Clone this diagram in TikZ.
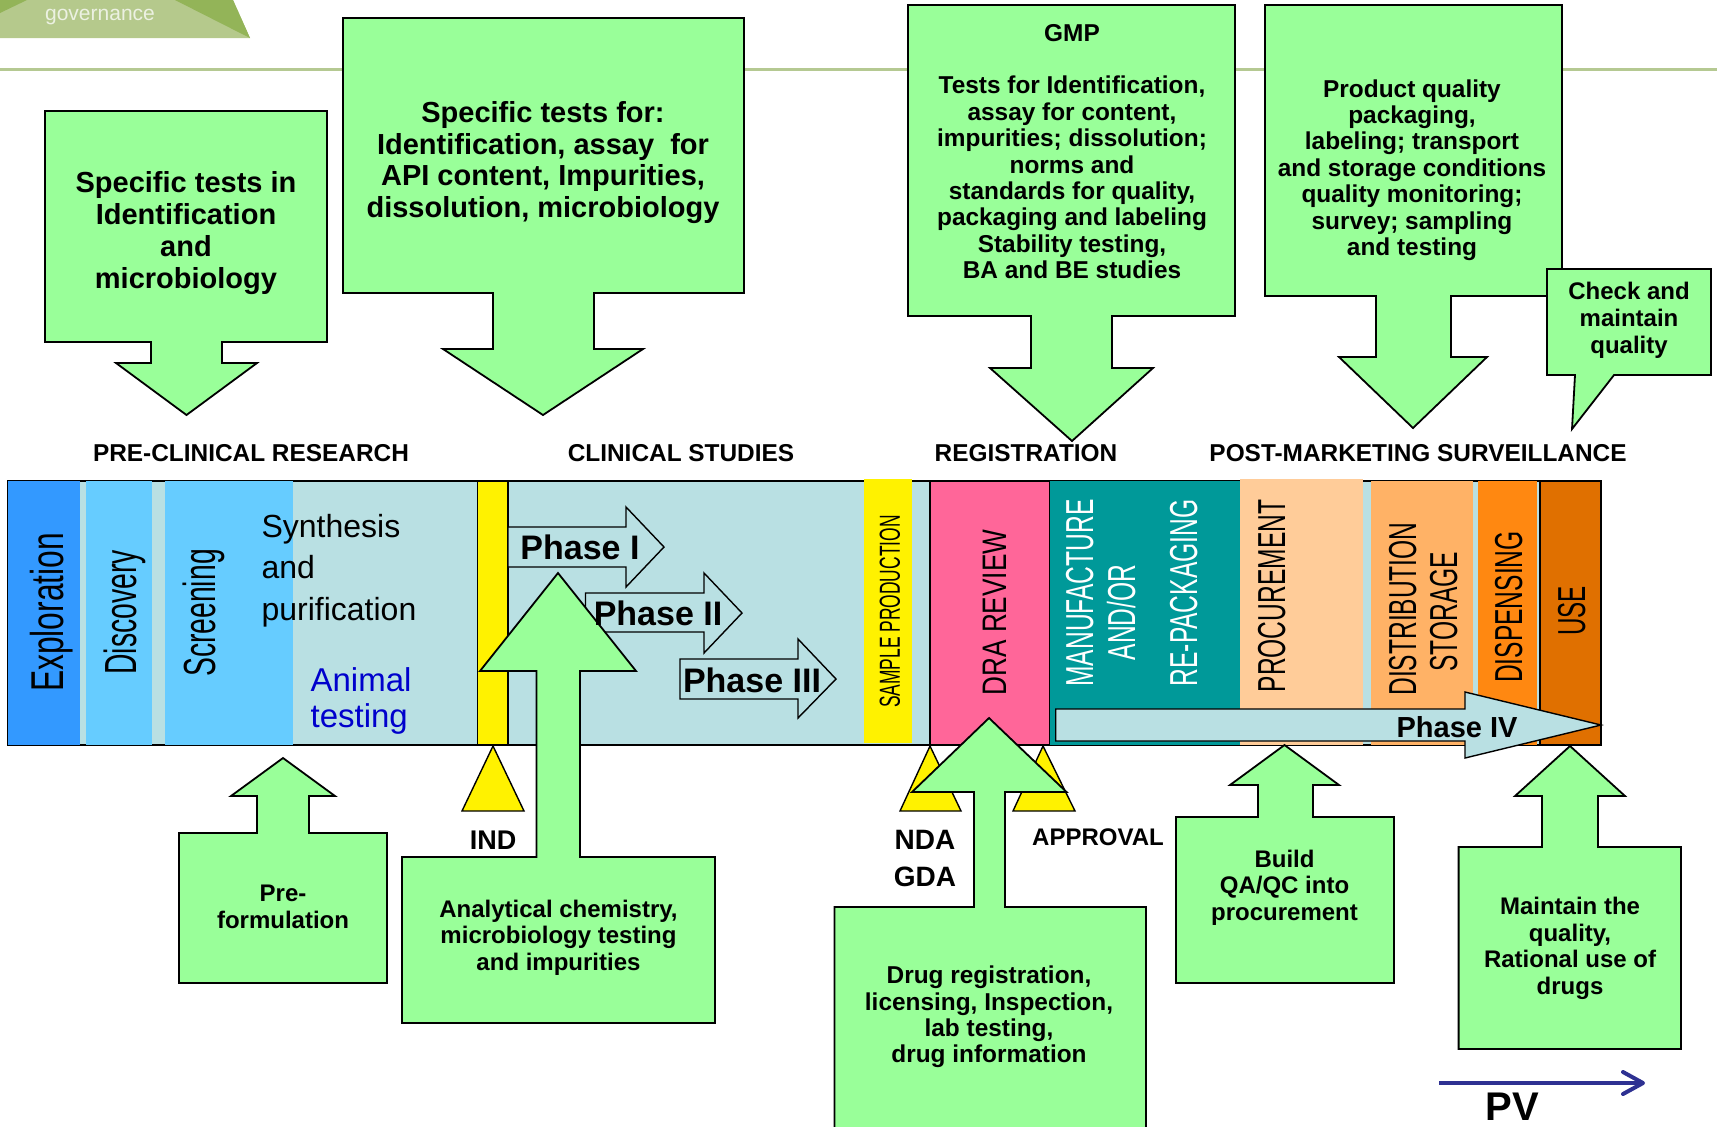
\documentclass[tikz,border=0pt]{standalone}
\usepackage{fontspec}
\setmainfont{Liberation Sans}
\usepackage{graphicx}
\usetikzlibrary{arrows.meta,positioning}

\definecolor{boxgreen}{RGB}{153,255,153}
\definecolor{barbg}{RGB}{185,224,227}
\definecolor{expblue}{RGB}{51,153,255}
\definecolor{skyblue}{RGB}{102,204,255}
\definecolor{drapink}{RGB}{255,102,153}
\definecolor{mfteal}{RGB}{0,153,153}
\definecolor{procpeach}{RGB}{255,204,153}
\definecolor{distorange}{RGB}{255,178,102}
\definecolor{disporange}{RGB}{255,136,17}
\definecolor{useorange}{RGB}{224,112,0}
\definecolor{animalblue}{RGB}{0,0,204}
\definecolor{pvblue}{RGB}{46,49,146}
\definecolor{govlight}{RGB}{181,201,140}
\definecolor{govdark}{RGB}{147,180,88}
\definecolor{govtext}{RGB}{236,241,226}
\definecolor{ruleline}{RGB}{181,201,146}

\newcommand{\setfs}[2]{\fontsize{#1}{#2}\selectfont}
\newcommand{\squeezed}[2]{\scalebox{#1}[1]{#2}}

\begin{document}
\begin{tikzpicture}[x=0.5pt,y=-0.5pt,
		callout/.style={fill=boxgreen,draw=black,line width=0.9pt},
		marker/.style={fill=yellow,draw=black,line width=0.7pt},
		phase/.style={fill=barbg,draw=black,line width=0.7pt},
		vlabel/.style={rotate=90,anchor=base,inner sep=0pt},
		stage/.style={font=\bfseries\setfs{12.2pt}{14pt}},
		boxtext/.style={align=center,font=\bfseries\setfs{12.2pt}{13.2pt}},
		bigtext/.style={align=center,font=\bfseries\setfs{14.5pt}{15.9pt}},
		phasetext/.style={font=\bfseries\setfs{17pt}{20pt}},
		semithick]

	\useasboundingbox (0,0) rectangle (1717,1126);

	% header
	\draw[ruleline,line width=1.5pt] (0,69) -- (1717,69);
	\fill[govlight] (0,0) -- (233,0) -- (250,38) -- (0,38) -- cycle;
	\fill[govdark] (175,0) -- (233,0) -- (250,38) -- cycle;
	\fill[govdark] (0,0) -- (27,0) -- (0,13) -- cycle;
	\node[text=govtext,font=\setfs{10.5pt}{12pt}] (Gov) at (100,17) {governance};

	% boxes above the time line
	\draw[callout] (45,111) -- (327,111) -- (327,342) -- (222,342) -- (222,363) -- (257,363)
		-- (186.5,415) -- (116,363) -- (151,363) -- (151,342) -- (45,342) -- cycle;
	\draw[callout] (343,18) -- (744,18) -- (744,293) -- (594,293) -- (594,349) -- (643,349)
		-- (543,415) -- (443,349) -- (493,349) -- (493,293) -- (343,293) -- cycle;
	\draw[callout] (908,5) -- (1235,5) -- (1235,316) -- (1112,316) -- (1112,368) -- (1153,368)
		-- (1072,441) -- (990,368) -- (1031,368) -- (1031,316) -- (908,316) -- cycle;
	\draw[callout] (1265,5) -- (1562,5) -- (1562,296) -- (1451,296) -- (1451,357) -- (1487,357)
		-- (1413,428) -- (1339,357) -- (1376,357) -- (1376,296) -- (1265,296) -- cycle;
	\draw[callout] (1547,269) -- (1711,269) -- (1711,375) -- (1614,375) -- (1572,429)
		-- (1575,375) -- (1547,375) -- cycle;

	% time line
	\draw[fill=barbg,draw=black,line width=1pt] (7.5,481) rectangle (1601,745);
	\fill[expblue] (7.5,481) rectangle (80,745);
	\fill[skyblue] (86,481) rectangle (152,745);
	\fill[skyblue] (165,481) rectangle (293,745);
	\draw[marker] (477.6,481) rectangle (508,745);
	\fill[yellow] (864,479) rectangle (912,743);
	\draw[fill=drapink,draw=black,line width=0.7pt] (930,481) rectangle (1050,745);
	\fill[mfteal] (1050,481) rectangle (1240,745);
	\fill[procpeach] (1240,479) rectangle (1363,745);
	\fill[distorange] (1371,481) rectangle (1473,745);
	\fill[disporange] (1477.6,481) rectangle (1537,745);
	\draw[fill=useorange,draw=black,line width=0.7pt] (1540,481) rectangle (1601,745);

	\draw[phase] (508,527) -- (626,527) -- (626,507) -- (664,547) -- (626,587) -- (626,567) -- (508,567) -- cycle;
	\draw[phase] (585.5,593) -- (704,593) -- (704,573) -- (742,613) -- (704,653) -- (704,632) -- (585.5,632) -- cycle;
	\draw[phase] (680,659) -- (798,659) -- (798,639) -- (836,679) -- (798,718) -- (798,699) -- (680,699) -- cycle;
	\draw[phase] (1055.7,709) -- (1465,709) -- (1465,692) -- (1601,725) -- (1465,758) -- (1465,741) -- (1055.7,741) -- cycle;

	% milestones
	\draw[marker] (462,811) -- (524,811) -- (493,746) -- cycle;
	\draw[marker] (900,811) -- (961,811) -- (930,746) -- cycle;
	\draw[marker] (1013,811) -- (1075,811) -- (1043,746) -- cycle;

	% boxes below the time line
	\draw[callout] (179,833) -- (257,833) -- (257,796) -- (231,796) -- (283,758) -- (335,796)
		-- (309,796) -- (309,833) -- (387,833) -- (387,983) -- (179,983) -- cycle;
	\draw[callout] (402,857) -- (536.5,857) -- (536.5,671) -- (480,671) -- (558,573) -- (636,671)
		-- (580,671) -- (580,857) -- (715,857) -- (715,1023) -- (402,1023) -- cycle;
	\draw[callout] (834.5,907) -- (974,907) -- (974,792) -- (912,792) -- (989,718) -- (1066.5,792)
		-- (1005,792) -- (1005,907) -- (1146,907) -- (1146,1140) -- (834.5,1140) -- cycle;
	\draw[callout] (1176,817) -- (1258,817) -- (1258,785) -- (1230,785) -- (1284.5,745) -- (1339,785)
		-- (1313,785) -- (1313,817) -- (1394,817) -- (1394,983) -- (1176,983) -- cycle;
	\draw[callout] (1458.6,847) -- (1542,847) -- (1542,796) -- (1515,796) -- (1570,746) -- (1625,796)
		-- (1598,796) -- (1598,847) -- (1681,847) -- (1681,1049) -- (1458.6,1049) -- cycle;

	% stage headings
	\node[stage] (Pre)  at (251,453)  {PRE-CLINICAL RESEARCH};
	\node[stage] (Clin) at (681,453)  {CLINICAL STUDIES};
	\node[stage] (Reg)  at (1026,453) {REGISTRATION};
	\node[stage] (Post) at (1418,453) {POST-MARKETING SURVEILLANCE};

	% texts in the boxes
	\node[bigtext] (T1) at (186,233) {Specific tests in\\Identification\\and\\microbiology};
	\node[bigtext] (T2) at (543,162.5) {Specific tests for:\\Identification, assay\ \ for\\API content, Impurities,\\dissolution, microbiology};
	\node[boxtext] (GMP) at (1072,33) {GMP};
	\node[boxtext] (T3) at (1072,177.5) {Tests for Identification,\\assay for content,\\impurities; dissolution;\\norms and\\standards for quality,\\packaging and labeling\\Stability testing,\\BA and BE studies};
	\node[boxtext] (T4) at (1412,170) {Product quality\\packaging,\\labeling; transport\\and storage conditions\\quality monitoring;\\survey; sampling\\and testing};
	\node[boxtext,font=\bfseries\setfs{12pt}{13.5pt}] (Check) at (1629,320) {Check and\\maintain\\quality};

	\node[boxtext,font=\bfseries\setfs{12pt}{13.5pt}] (B1) at (283,907) {Pre-\\formulation};
	\node[boxtext,font=\bfseries\setfs{12pt}{13.3pt}] (B2) at (558.5,937.5) {Analytical chemistry,\\microbiology testing\\and impurities};
	\node[boxtext] (B3) at (989,1017) {Drug registration,\\licensing, Inspection,\\lab testing,\\drug information};
	\node[boxtext,font=\bfseries\setfs{12pt}{13.3pt}] (B4) at (1284.5,887.5) {Build\\QA/QC into\\procurement};
	\node[boxtext,font=\bfseries\setfs{12pt}{13.3pt}] (B5) at (1570,948.5) {Maintain the\\quality,\\Rational use of\\drugs};

	% milestone labels
	\node[font=\bfseries\setfs{13.5pt}{16pt}] (IND) at (493,840) {IND};
	\node[align=center,font=\bfseries\setfs{14pt}{18.5pt}] (NDA) at (925,858.5) {NDA\\GDA};
	\node[font=\bfseries\setfs{12pt}{14pt}] (Appr) at (1098,837) {APPROVAL};

	% labels on the time line
	\node[vlabel,font=\setfs{23pt}{24pt}] (Expl) at (63,612.5) {\squeezed{0.69}{Exploration}};
	\node[vlabel,font=\setfs{22.5pt}{24pt}] (Disc) at (136.6,612.5) {\squeezed{0.63}{Discovery}};
	\node[vlabel,font=\setfs{22.5pt}{24pt}] (Scr) at (215,613) {\squeezed{0.63}{Screening}};
	\node[anchor=west,align=left,inner sep=0pt,font=\setfs{16pt}{20.8pt}] (Synth) at (261,570.5) {Synthesis\\and\\purification};
	\node[anchor=west,align=left,inner sep=0pt,text=animalblue,font=\setfs{16.5pt}{18pt}] (Animal) at (310,701) {Animal\\testing};

	\node[phasetext] (P1) at (580,547) {Phase I};
	\node[phasetext] (P2) at (658,613) {Phase II};
	\node[phasetext] (P3) at (752,680) {Phase III};
	\node[font=\bfseries\setfs{14.5pt}{16pt}] (P4) at (1457,727) {Phase IV};

	\node[vlabel,font=\setfs{14.5pt}{16pt}] (Sample) at (899.8,611.5) {\squeezed{0.6}{SAMPLE PRODUCTION}};
	\node[vlabel,font=\setfs{17pt}{18pt}] (DRA) at (1006,612.5) {\squeezed{0.77}{DRA REVIEW}};
	\node[vlabel,text=white,font=\setfs{19.5pt}{20pt}] (Manu) at (1093,593) {\squeezed{0.63}{MANUFACTURE}};
	\node[vlabel,text=white,font=\setfs{19.5pt}{20pt}] (AndOr) at (1135,612.5) {\squeezed{0.63}{AND/OR}};
	\node[vlabel,text=white,font=\setfs{19.5pt}{20pt}] (Repack) at (1197,593) {\squeezed{0.63}{RE-PACKAGING}};
	\node[vlabel,font=\setfs{19.5pt}{20pt}] (Proc) at (1285,596) {\squeezed{0.63}{PROCUREMENT}};
	\node[vlabel,font=\setfs{19.5pt}{20pt}] (Dist) at (1416,609) {\squeezed{0.63}{DISTRIBUTION}};
	\node[vlabel,font=\setfs{19.5pt}{20pt}] (Stor) at (1457,611.7) {\squeezed{0.63}{STORAGE}};
	\node[vlabel,font=\setfs{19.5pt}{20pt}] (Disp) at (1522,607) {\squeezed{0.63}{DISPENSING}};
	\node[vlabel,font=\setfs{19.5pt}{20pt}] (Use) at (1585,611) {\squeezed{0.62}{USE}};

	% pharmacovigilance
	\coordinate (PVstart) at (1439,1083);
	\coordinate (PVend) at (1645,1083);
	\draw[pvblue,line width=2pt,-{Straight Barb[length=10pt,width=11pt,round]}] (PVstart) -- (PVend);
	\node[font=\bfseries\setfs{20pt}{22pt}] (PV) at (1512.5,1107) {PV};
\end{tikzpicture}
\end{document}
